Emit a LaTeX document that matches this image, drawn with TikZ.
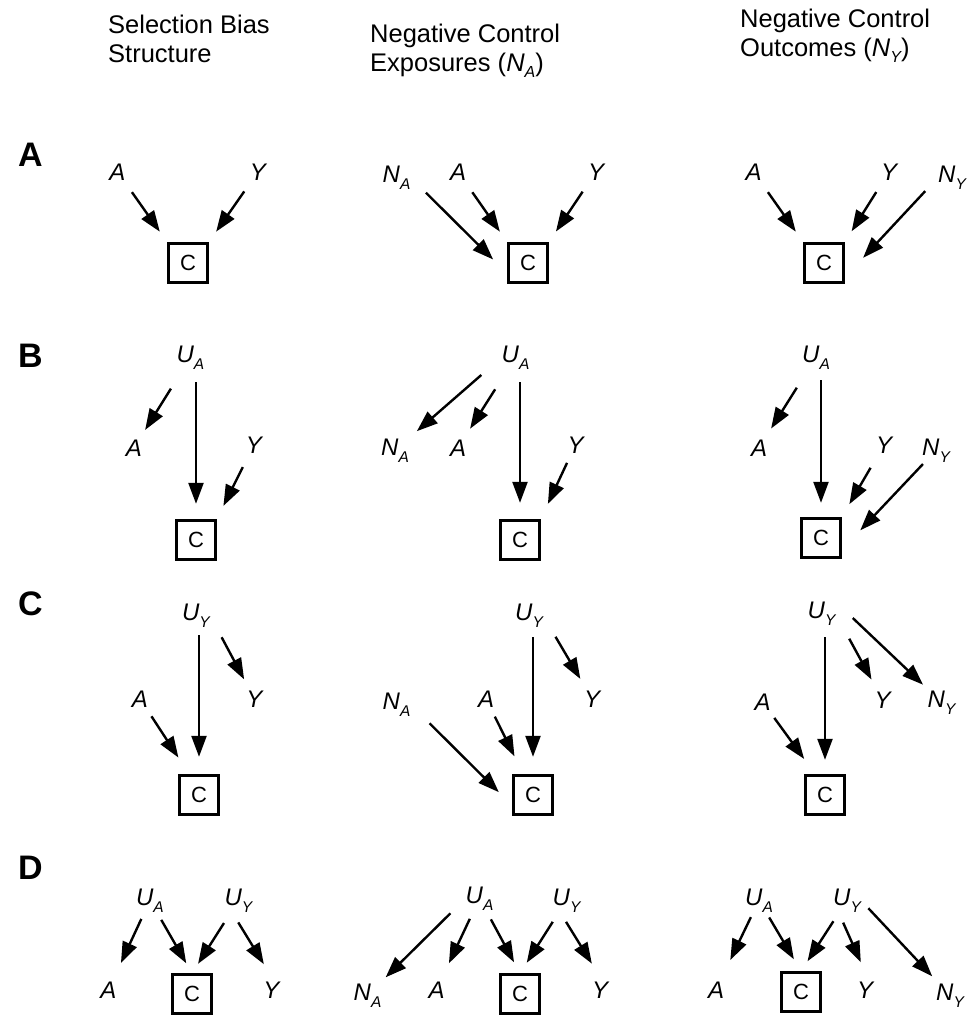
\documentclass[tikz,border=0pt]{standalone}
\usepackage{fontspec}
\setmainfont{Liberation Sans}
\usetikzlibrary{arrows.meta}
\newcommand{\labsub}[2]{#1\raisebox{-7pt}{\fontsize{15.5}{15.5}\selectfont #2}}
\newcommand{\hdsub}[1]{\raisebox{-6pt}{\fontsize{16}{16}\selectfont\itshape #1}}
\tikzset{
  lab/.style={inner sep=0pt, outer sep=0pt, anchor=base, font=\fontsize{24}{24}\selectfont\itshape},
  cbox/.style={draw, line width=2.4pt, minimum size=39pt, inner sep=0pt, font=\fontsize{22}{22}\selectfont},
  arr/.style={line width=2.4pt, -{Triangle[length=21pt,width=15pt]}},
  head/.style={inner sep=0pt, anchor=north west, align=left, font=\fontsize{25.5}{29}\selectfont},
  rowlab/.style={inner sep=0pt, anchor=west, font=\fontsize{34}{34}\selectfont\bfseries}
}
\begin{document}
\begin{tikzpicture}[x=1pt, y=-1pt]
\useasboundingbox (0,0) rectangle (968,1017);
\clip (0,0) rectangle (968,1017);

% headers
\node[head] (h1) at (108,14.5) {Selection Bias\\Structure};
\node[head] (h2) at (370,23.5) {Negative Control\\Exposures (\textit{N}\hdsub{A})};
\node[head] (h3) at (740,8.5) {Negative Control\\Outcomes (\textit{N}\hdsub{Y})};

% row letters
\node[rowlab] (rA) at (18,155) {A};
\node[rowlab] (rB) at (18,356) {B};
\node[rowlab] (rC) at (18,604) {C};
\node[rowlab] (rD) at (18,868) {D};

% ---------- Row A ----------
\node[lab] (a1A) at (117.5,180) {A};
\node[lab] (a1Y) at (258,180) {Y};
\node[cbox] (a1C) at (188,263) {C};
\draw[arr, shorten <=25pt, shorten >=13pt] (a1A.center) -- (a1C.north west);
\draw[arr, shorten <=24pt, shorten >=13pt] (a1Y.center) -- (a1C.north east);

\node[lab] (a2N) at (396.5,182) {\labsub{N}{A}};
\node[lab] (a2A) at (458,180) {A};
\node[lab] (a2Y) at (596,180) {Y};
\node[cbox] (a2C) at (528,263) {C};
\draw[arr, shorten <=22pt, shorten >=20pt] (a2N.east) -- (a2C.207);
\draw[arr, shorten <=25pt, shorten >=13pt] (a2A.center) -- (a2C.north west);
\draw[arr, shorten <=24pt, shorten >=13pt] (a2Y.center) -- (a2C.north east);

\node[lab] (a3A) at (753.5,180) {A};
\node[lab] (a3Y) at (889,180) {Y};
\node[lab] (a3N) at (952,182) {\labsub{N}{Y}};
\node[cbox] (a3C) at (824,263) {C};
\draw[arr, shorten <=25pt, shorten >=13pt] (a3A.center) -- (a3C.north west);
\draw[arr, shorten <=24pt, shorten >=13pt] (a3Y.center) -- (a3C.north east);
\draw[arr, shorten <=19pt, shorten >=27pt] (a3N.west) -- (a3C.325);

% ---------- Row B ----------
\node[lab] (b1U) at (190.5,362) {\labsub{U}{A}};
\node[lab] (b1A) at (134,456) {A};
\node[lab] (b1Y) at (254,453) {Y};
\node[cbox] (b1C) at (196,540) {C};
\draw[arr, shorten <=37pt, shorten >=21pt] (b1U.center) -- (b1A.center);
\draw[arr, shorten <=13pt, shorten >=15.5pt] (b1U.south -| b1C) -- (b1C.north);
\draw[arr, shorten <=25pt, shorten >=15pt] (b1Y.center) -- (b1C.north east);

\node[lab] (b2U) at (515.5,362) {\labsub{U}{A}};
\node[lab] (b2N) at (395,455) {\labsub{N}{A}};
\node[lab] (b2A) at (458,456) {A};
\node[lab] (b2Y) at (575.5,453) {Y};
\node[cbox] (b2C) at (520,540) {C};
\draw[arr, shorten <=27pt, shorten >=29pt] (b2U.west) -- (b2N.center);
\draw[arr, shorten <=38pt, shorten >=22.6pt] (b2U.center) -- (b2A.center);
\draw[arr, shorten <=13pt, shorten >=16.5pt] (b2U.south -| b2C) -- (b2C.north);
\draw[arr, shorten <=20pt, shorten >=17pt] (b2Y.center) -- (b2C.north east);

\node[lab] (b3U) at (816,362) {\labsub{U}{A}};
\node[lab] (b3A) at (759,456) {A};
\node[lab] (b3Y) at (884,453) {Y};
\node[lab] (b3N) at (936,455) {\labsub{N}{Y}};
\node[cbox] (b3C) at (821,538) {C};
\draw[arr, shorten <=36pt, shorten >=22.7pt] (b3U.center) -- (b3A.center);
\draw[arr, shorten <=11pt, shorten >=14.5pt] (b3U.south -| b3C) -- (b3C.north);
\draw[arr, shorten <=26.7pt, shorten >=15.2pt] (b3Y.center) -- (b3C.north east);
\draw[arr, shorten <=19pt, shorten >=27pt] (b3N.center) -- (b3C.330);

% ---------- Row C ----------
\node[lab] (c1U) at (196,620) {\labsub{U}{Y}};
\node[lab] (c1A) at (140,707) {A};
\node[lab] (c1Y) at (254.5,707) {Y};
\node[cbox] (c1C) at (199,795) {C};
\draw[arr, shorten <=8pt, shorten >=17.5pt] (c1U.south -| c1C) -- (c1C.north);
\draw[arr, shorten <=25pt, shorten >=22pt] (c1U.east) -- (c1Y.center);
\draw[arr, shorten <=21pt, shorten >=20pt] (c1A.center) -- (c1C.115);

\node[lab] (c2U) at (529,620) {\labsub{U}{Y}};
\node[lab] (c2N) at (396.5,709) {\labsub{N}{A}};
\node[lab] (c2A) at (486,707) {A};
\node[lab] (c2Y) at (592,707) {Y};
\node[cbox] (c2C) at (533,795) {C};
\draw[arr, shorten <=10pt, shorten >=17.5pt] (c2U.south -| c2C) -- (c2C.north);
\draw[arr, shorten <=25pt, shorten >=23pt] (c2U.east) -- (c2Y.center);
\draw[arr, shorten <=27pt, shorten >=19pt] (c2N.east) -- (c2C.207);
\draw[arr, shorten <=20pt, shorten >=20pt] (c2A.center) -- (c2C.115);

\node[lab] (c3U) at (821.5,618) {\labsub{U}{Y}};
\node[lab] (c3A) at (762.5,710) {A};
\node[lab] (c3Y) at (882.5,708) {Y};
\node[lab] (c3N) at (941.5,707) {\labsub{N}{Y}};
\node[cbox] (c3C) at (825,795) {C};
\draw[arr, shorten <=12pt, shorten >=14.5pt] (c3U.south -| c3C) -- (c3C.north);
\draw[arr, shorten <=29pt, shorten >=23pt] (c3U.east) -- (c3Y.center);
\draw[arr, shorten <=24pt, shorten >=25.5pt] (c3U.north east) -- (c3N.center);
\draw[arr, shorten <=20pt, shorten >=19pt] (c3A.center) -- (c3C.115);

% ---------- Row D ----------
\node[lab] (d1UA) at (150,905) {\labsub{U}{A}};
\node[lab] (d1UY) at (238.5,905) {\labsub{U}{Y}};
\node[lab] (d1A) at (108.5,998) {A};
\node[cbox] (d1C) at (192,994) {C};
\node[lab] (d1Y) at (271.5,998) {Y};
\draw[arr, shorten <=20.6pt, shorten >=29.6pt] (d1UA.center) -- (d1A.center);
\draw[arr, shorten <=22.6pt, shorten >=11.6pt] (d1UA.center) -- (d1C.north);
\draw[arr, shorten <=27pt, shorten >=11.2pt] (d1UY.center) -- (d1C.north);
\draw[arr, shorten <=26pt, shorten >=30pt] (d1UY.west) -- (d1Y.east);

\node[lab] (d2UA) at (479.5,903) {\labsub{U}{A}};
\node[lab] (d2UY) at (566.5,905) {\labsub{U}{Y}};
\node[lab] (d2N) at (367.5,1000) {\labsub{N}{A}};
\node[lab] (d2A) at (436.5,998) {A};
\node[cbox] (d2C) at (520,994) {C};
\node[lab] (d2Y) at (600,998) {Y};
\draw[arr, shorten <=21.5pt, shorten >=25.5pt] (d2UA.west) -- (d2N.center);
\draw[arr, shorten <=22.7pt, shorten >=29.2pt] (d2UA.center) -- (d2A.center);
\draw[arr, shorten <=24pt, shorten >=12.5pt] (d2UA.center) -- (d2C.north);
\draw[arr, shorten <=25.6pt, shorten >=12.5pt] (d2UY.center) -- (d2C.north);
\draw[arr, shorten <=25.4pt, shorten >=30.7pt] (d2UY.west) -- (d2Y.east);

\node[lab] (d3UA) at (759,905) {\labsub{U}{A}};
\node[lab] (d3UY) at (847,905) {\labsub{U}{Y}};
\node[lab] (d3A) at (716,998) {A};
\node[cbox] (d3C) at (801,992) {C};
\node[lab] (d3Y) at (865,998) {Y};
\node[lab] (d3N) at (950,1000) {\labsub{N}{Y}};
\draw[arr, shorten <=18.7pt, shorten >=33pt] (d3UA.center) -- (d3A.center);
\draw[arr, shorten <=20pt, shorten >=14pt] (d3UA.center) -- (d3C.north);
\draw[arr, shorten <=25pt, shorten >=12pt] (d3UY.center) -- (d3C.north);
\draw[arr, shorten <=24.5pt, shorten >=30pt] (d3UY.west) -- (d3Y.east);
\draw[arr, shorten <=11pt, shorten >=26pt] (d3UY.east) -- (d3N.center);
\end{tikzpicture}
\end{document}
